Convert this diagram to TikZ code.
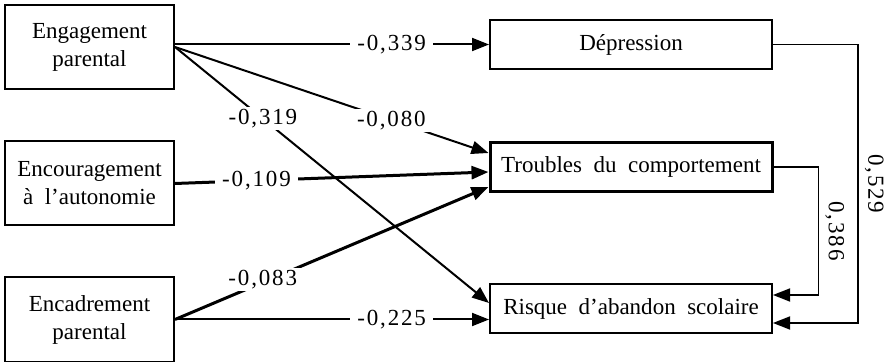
\documentclass[tikz,border=0pt]{standalone}
\usepackage{fontspec}
\setmainfont{Liberation Serif}
\usetikzlibrary{arrows.meta,calc}
\begin{document}
\begin{tikzpicture}[x=0.5pt,y=-0.5pt,
  box/.style={draw,line width=1pt,minimum width=84.5pt,minimum height=42pt,align=center,inner sep=0pt,font=\fontsize{11.5}{14}\selectfont},
  rbox/.style={draw,line width=1pt,minimum width=141pt,minimum height=24.5pt,inner sep=0pt,font=\fontsize{11.5}{14}\selectfont},
  arr/.style={line width=1pt,-{Triangle[length=8.5pt,width=6.5pt]}},
  heavyarr/.style={line width=1.5pt,-{Triangle[length=8.5pt,width=6.5pt]}},
  sidearr/.style={line width=0.9pt,-{Triangle[length=8.5pt,width=6.5pt]}},
  lab/.style={fill=white,inner xsep=3.5pt,inner ysep=1pt,font=\fontsize{11.5}{14}\selectfont\addfontfeature{LetterSpace=8}},
  vlab/.style={rotate=-90,anchor=south,inner sep=3pt,font=\fontsize{11.5}{14}\selectfont\addfontfeature{LetterSpace=8}}
]
\useasboundingbox (0,0) rectangle (886,362);
\node[box] (eng) at (89.5,47) {Engagement\\parental};
\node[box] (enc) at (89.5,183.5) {Encouragement\\à\ \ l’autonomie};
\node[box] (cad) at (89.5,319.5) {Encadrement\\parental};
\node[rbox] (dep) at (631,44.5) {Dépression};
\node[rbox,line width=1.5pt] (trb) at (631,167) {Troubles\ \ du\ \ comportement};
\node[rbox] (risk) at (631,308.5) {Risque\ \ d’abandon\ \ scolaire};

\draw[arr] (eng.east |- dep.west) -- node[lab,pos=0.69]{-0,339} (dep.west);
\draw[arr] (eng.east) -- node[lab,pos=0.69]{-0,080} ([yshift=7pt]trb.west);
\draw[arr] (eng.east) -- node[lab,pos=0.28]{-0,319} ([yshift=2.75pt]risk.west);
\draw[heavyarr] (enc.east) -- node[lab,pos=0.26]{-0,109} ([yshift=-2.5pt]trb.west);
\draw[heavyarr] (cad.east) -- node[lab,pos=0.28,yshift=1.5pt]{-0,083} ([yshift=-10pt]trb.west);
\draw[arr] (cad.east) -- node[lab,pos=0.69]{-0,225} (cad.east -| risk.west);

\draw[sidearr] (dep.east) -- ++(85,0) |- node[vlab,pos=0.25]{0,529} ([yshift=-7.25pt]risk.east);
\draw[sidearr] (trb.east) -- ++(45,0) |- node[vlab,pos=0.25]{0,386} ([yshift=6.75pt]risk.east);
\end{tikzpicture}
\end{document}
